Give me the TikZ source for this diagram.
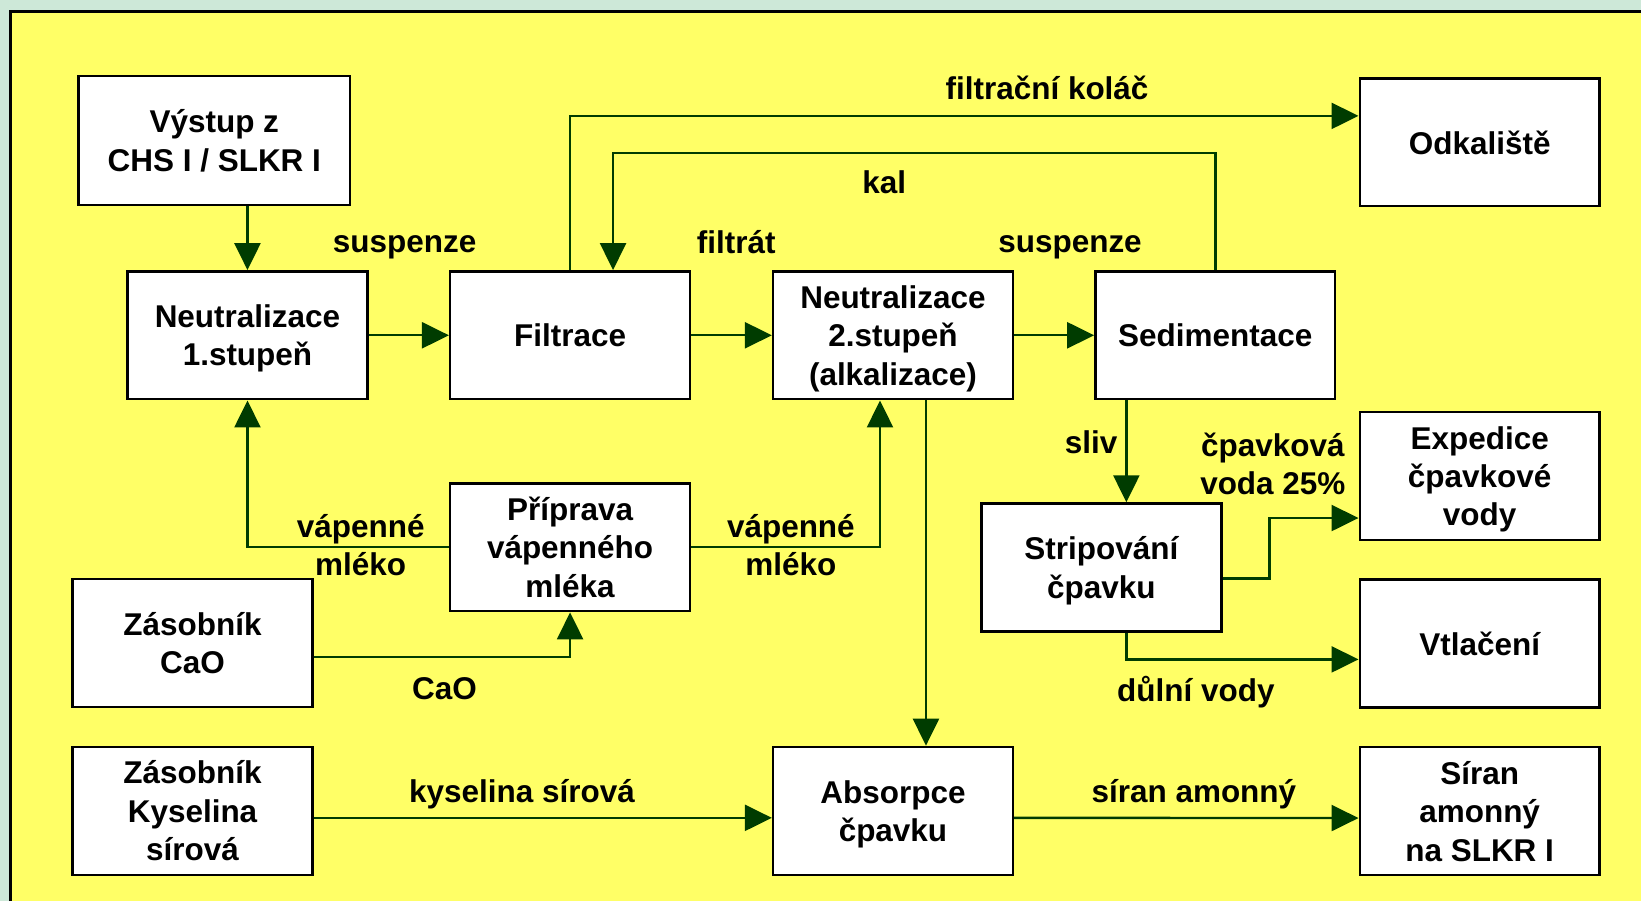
\documentclass[tikz,border=0pt]{standalone}
\usepackage{fontspec}
\setmainfont{Liberation Sans}
\usetikzlibrary{arrows.meta}
\definecolor{bgc}{RGB}{205,232,216}
\definecolor{panel}{RGB}{255,255,102}
\definecolor{flowc}{RGB}{0,60,0}
\begin{document}
\begin{tikzpicture}[x=1pt,y=-1pt,
 box/.style={draw=black,line width=2.5pt,fill=white,minimum width=240pt,minimum height=128pt,align=center,font=\bfseries\fontsize{31.5}{38.5}\selectfont,inner sep=0pt,text depth=0pt},
 lbl/.style={align=center,font=\bfseries\fontsize{31.5}{38.5}\selectfont,inner sep=0pt,text depth=0pt},
 flow/.style={draw=flowc,line width=2.4pt,-{Triangle[length=27pt,width=26pt]}}]
\fill[bgc] (0,0) rectangle (1642,902);
\fill[panel] (11,12) rectangle (1642,902);
\draw[line width=3pt] (11,902) -- (11,12) -- (1642,12);
\useasboundingbox (0,0) rectangle (1642,902);

\node[box,minimum width=272pt,minimum height=129pt] (vystup) at (214.5,140.5) {Výstup z\\CHS I / SLKR I};
\node[box] (n1) at (247.7,335.6) {Neutralizace\\1.stupeň};
\node[box] (filtrace) at (570.6,335.6) {Filtrace};
\node[box] (n2) at (893.8,335.6) {Neutralizace\\2.stupeň\\(alkalizace)};
\node[box] (sed) at (1216.4,335.6) {Sedimentace};
\node[box] (odkal) at (1481,142.4) {Odkaliště};
\node[box] (exped) at (1481,476.5) {Expedice\\čpavkové\\vody};
\node[box] (vtlac) at (1481,644) {Vtlačení};
\node[box] (strip) at (1102.4,568) {Stripování\\čpavku};
\node[box] (prip) at (570.6,547.7) {Příprava\\vápenného\\mléka};
\node[box] (cao) at (192.7,643.5) {Zásobník\\CaO};
\node[box] (kys) at (192.7,811.6) {Zásobník\\Kyselina\\sírová};
\node[box] (abs) at (893.8,811.6) {Absorpce\\čpavku};
\node[box] (siran) at (1481,811.8) {Síran\\amonný\\na SLKR I};

\coordinate (kaltop) at (0,153);
\draw[flow] (vystup.south -| n1) -- (n1.north);
\draw[flow] (n1.east) -- (filtrace.west);
\draw[flow] (filtrace.north) |- ([yshift=26.4pt]odkal.west);
\draw[flow] (sed.north) -- (sed.north |- kaltop) -| ([xshift=43pt]filtrace.north);
\draw[flow] (filtrace.east) -- (n2.west);
\draw[flow] (n2.east) -- (sed.west);
\draw[flow] ([xshift=25pt]strip.north |- sed.south) -- ([xshift=25pt]strip.north);
\draw[flow] ([yshift=-11pt]strip.east) -- ++(47,0) |- ([yshift=-42pt]exped.west);
\draw[flow] ([xshift=25pt]strip.south) |- ([yshift=-16pt]vtlac.west);
\draw[flow] ([xshift=33pt]n2.south) -- ([xshift=33pt]abs.north);
\draw[flow] (prip.west) -| (n1.south);
\draw[flow] (prip.east) -| ([xshift=-13pt]n2.south);
\draw[flow] ([yshift=-14pt]cao.east) -| (prip.south);
\draw[flow] ([yshift=-7pt]kys.east) -- ([yshift=-7pt]abs.west);
\draw[flow] ([yshift=-7pt]abs.east) -- ([yshift=-7pt]siran.west);

\node[lbl] (l1) at (405,244) {suspenze};
\node[lbl] (l2) at (1048,88) {filtrační koláč};
\node[lbl] (l3) at (885,182) {kal};
\node[lbl] (l4) at (737,242) {filtrát};
\node[lbl] (l5) at (1071,244) {suspenze};
\node[lbl] (l6) at (1092,443) {sliv};
\node[lbl] (l7) at (1274,464) {čpavková\\voda 25\%};
\node[lbl] (l8) at (1197,689) {důlní vody};
\node[lbl] (l9) at (361,545.5) {vápenné\\mléko};
\node[lbl] (l10) at (791.6,545.5) {vápenné\\mléko};
\node[lbl] (l11) at (445,689) {CaO};
\node[lbl] (l12) at (522.5,791.6) {kyselina sírová};
\node[lbl] (l13) at (1195,791.6) {síran amonný};
\end{tikzpicture}
\end{document}
